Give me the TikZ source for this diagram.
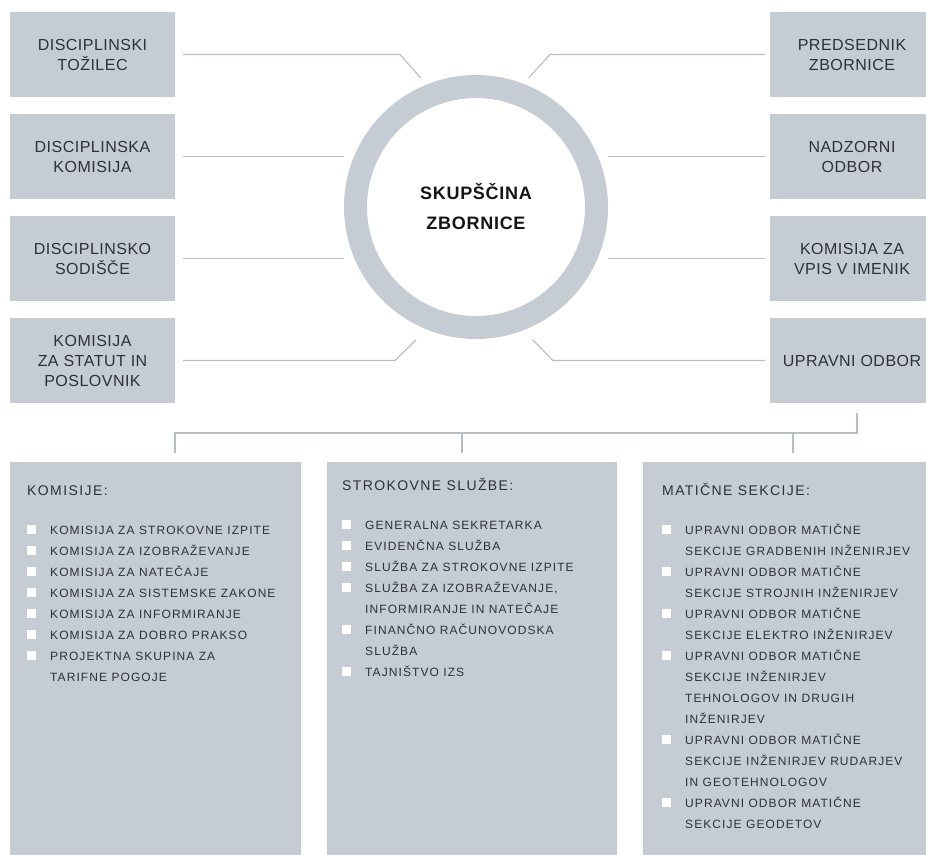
\documentclass[tikz,border=0pt]{standalone}
\usepackage{fontspec}
\setmainfont{Liberation Sans}
\newfontfamily\boxfont[LetterSpace=3]{Liberation Sans}
\newfontfamily\headfont[LetterSpace=10]{Liberation Sans}
\newfontfamily\listfont[LetterSpace=9]{Liberation Sans}
\newfontfamily\titlefont[LetterSpace=4]{Liberation Sans}
\definecolor{boxfill}{HTML}{C6CCD3}
\definecolor{ringc}{HTML}{C5CCD3}
\definecolor{linec}{HTML}{B5BDC5}
\definecolor{txt}{HTML}{2E3136}
\definecolor{titletxt}{HTML}{151515}
\newcommand\bulsq{\makebox[23pt][l]{\textcolor{white}{\rule{9pt}{9pt}}}}
\newcommand\listhead[1]{\multicolumn{2}{@{}l@{}}{\headfont\fontsize{14}{21}\selectfont #1}}
\begin{document}
\begin{tikzpicture}[x=1pt,y=-1pt,
  orgbox/.style={rectangle, fill=boxfill, minimum height=85pt, inner sep=0pt,
    outer sep=0pt, anchor=north west, align=center, text=txt,
    font=\boxfont\fontsize{16}{20}\selectfont},
  lbox/.style={orgbox, minimum width=165pt},
  rbox/.style={orgbox, minimum width=164pt},
  listbox/.style={rectangle, fill=boxfill, minimum height=420pt, inner sep=0pt,
    outer sep=0pt, anchor=north west},
  listtext/.style={anchor=base west, inner sep=0pt, text=txt,
    font=\listfont\fontsize{12}{21}\selectfont},
  conn/.style={draw=linec, line width=1.1pt}]
\useasboundingbox (0,0) rectangle (926,854);
\fill[white] (0,0) rectangle (926,854);

% left boxes
\node[lbox] (l1) at (10,12)  {DISCIPLINSKI\\TOŽILEC};
\node[lbox] (l2) at (10,114) {DISCIPLINSKA\\KOMISIJA};
\node[lbox] (l3) at (10,216) {DISCIPLINSKO\\SODIŠČE};
\node[lbox] (l4) at (10,318) {KOMISIJA\\ZA STATUT IN\\POSLOVNIK};
% right boxes
\node[rbox] (r1) at (770,12)  {PREDSEDNIK\\ZBORNICE};
\node[rbox] (r2) at (770,114) {NADZORNI\\ODBOR};
\node[rbox] (r3) at (770,216) {KOMISIJA ZA\\VPIS V IMENIK};
\node[rbox] (r4) at (770,318) {UPRAVNI ODBOR};

% central ring
\node[circle, draw=ringc, line width=23pt, minimum size=241pt, inner sep=0pt,
  align=center, text=titletxt,
  font=\titlefont\bfseries\fontsize{18}{30}\selectfont] (ring) at (476,207)
  {SKUPŠČINA\\ZBORNICE};

% connectors left
\draw[conn, shorten >=9pt] ([xshift=8]l1.east) -- ++(217,0) -- (ring.112);
\draw[conn] ([xshift=8]l2.east) -- (l2.east -| ring.west);
\draw[conn] ([xshift=8]l3.east) -- (l3.east -| ring.west);
\draw[conn, shorten >=15pt] ([xshift=8]l4.east) -- ++(212,0) -- (ring.248);
% connectors right
\draw[conn, shorten >=8pt] ([xshift=-5]r1.west) -- ++(-215,0) -- (ring.69.5);
\draw[conn] ([xshift=-5]r2.west) -- (r2.west -| ring.east);
\draw[conn] ([xshift=-5]r3.west) -- (r3.west -| ring.east);
\draw[conn, shorten >=13pt] ([xshift=-5]r4.west) -- ++(-212,0) -- (ring.291);

% bottom boxes
\node[listbox, minimum width=291pt] (b1) at (10,462) {};
\node[listbox, minimum width=290pt] (b2) at (327,462) {};
\node[listbox, minimum width=292pt] (b3) at (643,462) {};

% bottom tree
\draw[conn] ([xshift=5,yshift=-10]r4.south) -- ++(0,20) -| ([xshift=19.5,yshift=9]b1.north);
\draw[conn] ([xshift=-10,yshift=29]b2.north) -- ([xshift=-10,yshift=9]b2.north);
\draw[conn] ([xshift=4,yshift=29]b3.north) -- ([xshift=4,yshift=9]b3.north);

% list texts
\node[listtext] (t1) at (27,495) {\begin{tabular}[t]{@{}l@{}l@{}}
\listhead{KOMISIJE:}\\[18pt]
\bulsq & KOMISIJA ZA STROKOVNE IZPITE\\
\bulsq & KOMISIJA ZA IZOBRAŽEVANJE\\
\bulsq & KOMISIJA ZA NATEČAJE\\
\bulsq & KOMISIJA ZA SISTEMSKE ZAKONE\\
\bulsq & KOMISIJA ZA INFORMIRANJE\\
\bulsq & KOMISIJA ZA DOBRO PRAKSO\\
\bulsq & PROJEKTNA SKUPINA ZA\\
       & TARIFNE POGOJE
\end{tabular}};

\node[listtext] (t2) at (342,490) {\begin{tabular}[t]{@{}l@{}l@{}}
\listhead{STROKOVNE SLUŽBE:}\\[18pt]
\bulsq & GENERALNA SEKRETARKA\\
\bulsq & EVIDENČNA SLUŽBA\\
\bulsq & SLUŽBA ZA STROKOVNE IZPITE\\
\bulsq & SLUŽBA ZA IZOBRAŽEVANJE,\\
       & INFORMIRANJE IN NATEČAJE\\
\bulsq & FINANČNO RAČUNOVODSKA\\
       & SLUŽBA\\
\bulsq & TAJNIŠTVO IZS
\end{tabular}};

\node[listtext] (t3) at (662,495) {\begin{tabular}[t]{@{}l@{}l@{}}
\listhead{MATIČNE SEKCIJE:}\\[18pt]
\bulsq & UPRAVNI ODBOR MATIČNE\\
       & SEKCIJE GRADBENIH INŽENIRJEV\\
\bulsq & UPRAVNI ODBOR MATIČNE\\
       & SEKCIJE STROJNIH INŽENIRJEV\\
\bulsq & UPRAVNI ODBOR MATIČNE\\
       & SEKCIJE ELEKTRO INŽENIRJEV\\
\bulsq & UPRAVNI ODBOR MATIČNE\\
       & SEKCIJE INŽENIRJEV\\
       & TEHNOLOGOV IN DRUGIH\\
       & INŽENIRJEV\\
\bulsq & UPRAVNI ODBOR MATIČNE\\
       & SEKCIJE INŽENIRJEV RUDARJEV\\
       & IN GEOTEHNOLOGOV\\
\bulsq & UPRAVNI ODBOR MATIČNE\\
       & SEKCIJE GEODETOV
\end{tabular}};
\end{tikzpicture}
\end{document}
